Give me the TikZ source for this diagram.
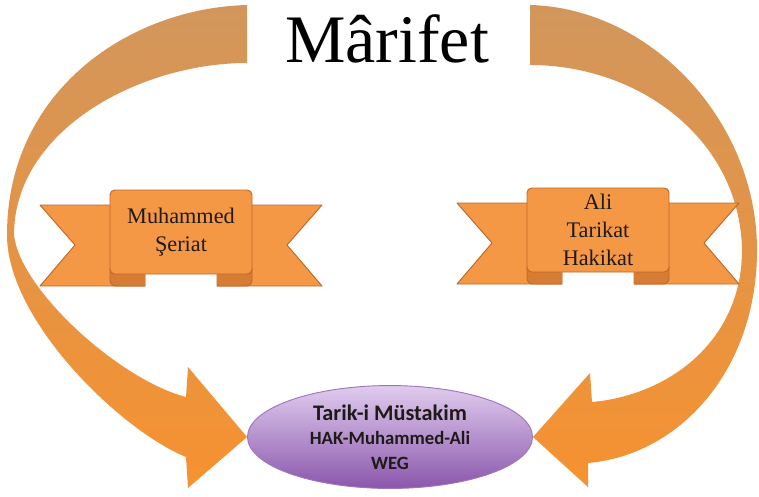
\documentclass[tikz,border=0pt]{standalone}
\usepackage{fontspec}
\setmainfont{Liberation Serif}
\newfontfamily\calibri{Carlito}
\usetikzlibrary{shapes.geometric, backgrounds}
\definecolor{arrowtop}{RGB}{210,150,92}
\definecolor{arrowmid}{RGB}{228,148,70}
\definecolor{arrowbot}{RGB}{246,146,48}
\definecolor{ribbonfill}{RGB}{245,152,70}
\definecolor{ribbonline}{RGB}{188,104,42}
\definecolor{ribbonfold}{RGB}{214,124,52}
\definecolor{ovaltop}{RGB}{224,204,238}
\definecolor{ovalbot}{RGB}{138,86,172}
\definecolor{ovalline}{RGB}{158,118,190}
\definecolor{textdark}{RGB}{30,26,24}
\tikzstyle{bigarrow} = [top color=arrowtop, middle color=arrowmid, bottom color=arrowbot, draw=none]
\tikzstyle{ribbon} = [fill=ribbonfill, draw=ribbonline, line width=0.8pt, line join=round]
\tikzstyle{fold} = [fill=ribbonfold, draw=ribbonline, line width=0.8pt]
\tikzstyle{bannertext} = [align=center, text=textdark, font=\rmfamily\fontsize{19}{24}\selectfont]
\tikzstyle{oval} = [ellipse, minimum width=8.55cm, minimum height=2.79cm, top color=ovaltop, bottom color=ovalbot, draw=ovalline, line width=0.8pt, align=center, text=textdark, font=\calibri\bfseries\fontsize{16}{21}\selectfont]
\tikzstyle{title} = [anchor=base, text=black, font=\rmfamily\fontsize{58}{62}\selectfont]

% scroll banner, #1 #2 = top left corner
\newcommand{\banner}[2]{%
	\begin{scope}[shift={(#1,#2)}]
		\filldraw[ribbon] (0,15) -- (105,15) -- (105,96) -- (0,96) -- (35,55) -- cycle;
		\filldraw[ribbon] (282,15) -- (177,15) -- (177,96) -- (282,96) -- (247,55) -- cycle;
		\filldraw[fold, rounded corners=5] (105,74) -- (70,74) -- (70,96) -- (105,96);
		\filldraw[fold, rounded corners=5] (177,74) -- (212,74) -- (212,96) -- (177,96);
		\filldraw[ribbon, rounded corners=4] (70,0) rectangle (212,84);
	\end{scope}}

\begin{document}
\begin{tikzpicture}[x=0.03cm, y=-0.03cm]
	\useasboundingbox (0,0) rectangle (759,496);
	
	\node (E1) [oval] at (390,437) {{\fontsize{19}{21}\selectfont Tarik-i Müstakim}\\HAK-Muhammed-Ali\\WEG};
	
	\begin{scope}[on background layer]
		% left arrow
		\path[bigarrow] (247,5) .. controls (130,8) and (7,90) .. (7,235)
			.. controls (7,320) and (120,430) .. (186,457) -- (188,488) -- (E1.west)
			-- (188,367) -- (186,397) .. controls (120,380) and (20,290) .. (14,235)
			.. controls (14,130) and (140,63) .. (247,63) -- cycle;
		% right arrow
		\path[bigarrow] (530,5) .. controls (650,8) and (757,120) .. (757,250)
			.. controls (757,370) and (680,455) .. (588,463) -- (588,487) -- (E1.east)
			-- (590,373) -- (592,402) .. controls (670,395) and (742,340) .. (742,250)
			.. controls (740,140) and (640,65) .. (530,65) -- cycle;
	\end{scope}
	
	\banner{40}{190}
	\banner{457}{188}
	
	\node (B1) [bannertext] at (181,232) {Muhammed\\Şeriat};
	\node (B2) [bannertext] at (598,230) {Ali\\Tarikat\\Hakikat};
	\node (T1) [title] at (387,62) {Mârifet};
	
\end{tikzpicture}
\end{document}
